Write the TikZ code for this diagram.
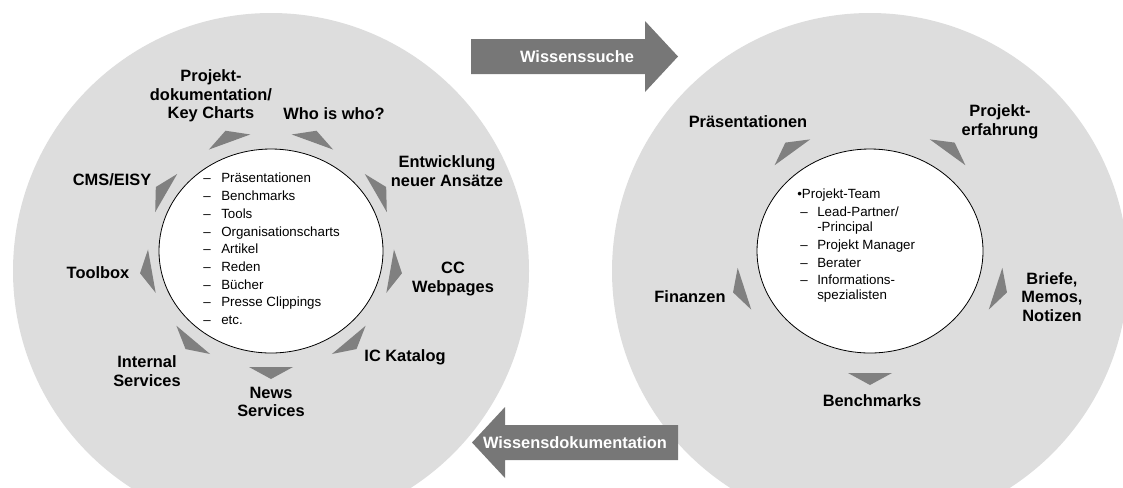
\documentclass[tikz,border=0pt]{standalone}
\usepackage{fontspec}
\setmainfont{Liberation Sans}
\usepackage{tikz}
\definecolor{ringgray}{RGB}{221,221,221}
\definecolor{tipgray}{RGB}{128,128,128}
\definecolor{flowgray}{RGB}{119,119,119}
\tikzstyle{ringcircle} = [fill=ringgray]
\tikzstyle{corecircle} = [draw=black, fill=white, line width=0.6pt]
\tikzstyle{tipshape} = [fill=tipgray]
\tikzstyle{flowarrow} = [fill=flowgray]
\tikzstyle{ringtext} = [inner sep=0pt, align=center,
    font=\fontsize{12.3}{13.9}\selectfont\bfseries]
\tikzstyle{flowtext} = [inner sep=0pt, text=white,
    font=\fontsize{12.3}{13.9}\selectfont\bfseries]
\tikzstyle{listtext} = [inner sep=0pt, align=left, anchor=west,
    font=\fontsize{10}{13.3}\selectfont]
\newcommand{\dashitem}{\makebox[13.5pt][l]{–}}
\newcommand{\teamdash}{\makebox[15pt][l]{\hspace{2.25pt}–}}

\begin{document}
\begin{tikzpicture}[x=0.75pt, y=-0.75pt]
\useasboundingbox (0,0) rectangle (1123,487);

\begin{scope}
\clip (0,0) rectangle (1123,487);
\fill[ringcircle] (271,271) circle [radius=193.5pt];
\fill[ringcircle] (870,271) circle [radius=193.5pt];
\end{scope}

% search / documentation arrows
\fill[flowarrow] (471,39) -- (645,39) -- (645,21) -- (678,56.5) -- (645,92)
    -- (645,74) -- (471,74) -- cycle;
\node[flowtext] (suche) at (577,57) {Wissenssuche};
\fill[flowarrow] (678,425) -- (505,425) -- (505,407) -- (472,442.5) -- (505,478)
    -- (505,460) -- (678,460) -- cycle;
\node[flowtext] (doku) at (575,443) {Wissensdokumentation};

\draw[corecircle] (271,251) ellipse [x radius=84pt, y radius=76.5pt];
\draw[corecircle] (870,251) ellipse [x radius=84.75pt, y radius=76.5pt];

\foreach \a in {110,70,30,-10,-50,-90,-130,-170,150}
  \fill[tipshape, shift={({271+121*cos(\a)},{251-116*sin(\a)})}, rotate=\a]
    (0,-22) -- (12,0) -- (0,22) -- cycle;
\foreach \a in {126,54,-18,-90,-162}
  \fill[tipshape, shift={({870+132*cos(\a)},{251-122*sin(\a)})}, rotate=\a]
    (0,-22) -- (12,0) -- (0,22) -- cycle;

% left ring
\node[ringtext] (keycharts) at (211,96) {Projekt-\\dokumentation/\\Key Charts};
\node[ringtext] (whoiswho) at (334,114) {Who is who?};
\node[ringtext] (entwicklung) at (447,171) {Entwicklung\\neuer Ansätze};
\node[ringtext] (webpages) at (453,279) {CC\\Webpages};
\node[ringtext] (katalog) at (405,357) {IC Katalog};
\node[ringtext] (news) at (271,402) {News\\Services};
\node[ringtext] (internal) at (147,371) {Internal\\Services};
\node[ringtext] (toolbox) at (98,273) {Toolbox};
\node[ringtext] (cms) at (112,180) {CMS/EISY};

\node[listtext] (quellen) at (203,249) {\dashitem Präsentationen\\
    \dashitem Benchmarks\\ \dashitem Tools\\ \dashitem Organisationscharts\\
    \dashitem Artikel\\ \dashitem Reden\\ \dashitem Bücher\\
    \dashitem Presse Clippings\\ \dashitem etc.};

% right ring
\node[ringtext] (praes) at (748,122) {Präsentationen};
\node[ringtext] (erfahrung) at (1000,122) {Projekt-\\erfahrung};
\node[ringtext] (briefe) at (1052,297) {Briefe,\\Memos,\\Notizen};
\node[ringtext] (bench) at (872,401) {Benchmarks};
\node[ringtext] (finanzen) at (690,297) {Finanzen};

\node[listtext] (team) at (797,246) {•Projekt-Team\\
    \teamdash Lead-Partner/\\[-2pt] \hspace*{15pt}-Principal\\
    \teamdash Projekt Manager\\ \teamdash Berater\\
    \teamdash Informations-\\[-2pt] \hspace*{15pt}spezialisten};

\end{tikzpicture}
\end{document}
